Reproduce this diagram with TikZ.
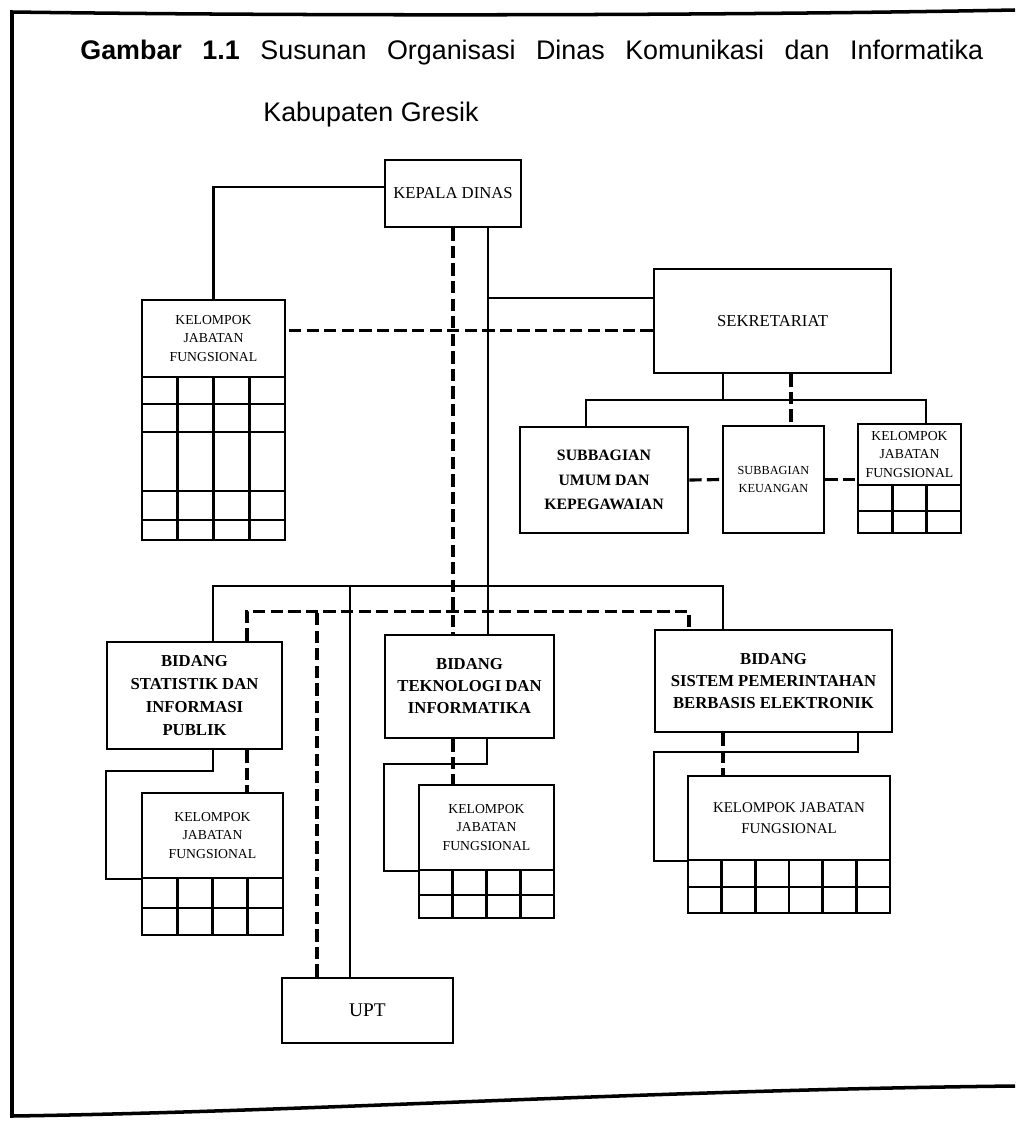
\documentclass[tikz,border=0pt]{standalone}
\usepackage{fontspec}
\setmainfont{Liberation Serif}
\newfontfamily\titlefont{Liberation Sans}
\usepackage{tikz}
\usetikzlibrary{positioning, matrix}

\tikzset{
  unitbox/.style={draw, line width=1.5pt, align=center, inner sep=0pt},
  jfbox/.style={unitbox, font=\fontsize{7.8}{10.5}\selectfont},
  solidlink/.style={line width=1.3pt},
  dashlink/.style={line width=1.8pt, dash pattern=on 7pt off 3pt},
  jfgrid/.style={matrix of nodes, nodes in empty cells, inner sep=0pt, outer sep=0pt,
    nodes={draw, line width=1.5pt, minimum width=#1, minimum height=0.52cm, inner sep=0pt},
    row sep=-1.5pt, column sep=-1.5pt, ampersand replacement=\&},
}

\begin{document}
\begin{tikzpicture}[x=0.02cm, y=-0.02cm]
  \useasboundingbox (0,0) rectangle (1015,1122);

  % bingkai halaman
  \draw[line width=2pt] (1015,10) .. controls (700,16) and (300,16) .. (12,12)
    -- (12,1116) .. controls (300,1112) and (650,1090) .. (1015,1086);

  % judul
  \node[anchor=base west, inner sep=0pt, font=\titlefont\fontsize{15.3}{18}\selectfont] (judul) at (80,60)
    {\makebox[18.06cm][s]{\textbf{Gambar} \textbf{1.1} Susunan Organisasi Dinas Komunikasi dan Informatika}};
  \node[anchor=base west, inner sep=0pt, font=\titlefont\fontsize{15.3}{18}\selectfont] (judulb) at (263,122)
    {Kabupaten Gresik};

  % unit kerja
  \node[unitbox, minimum width=2.72cm, minimum height=1.34cm, font=\fontsize{9.5}{13}\selectfont]
    (kepala) at (453,193.5) {KEPALA DINAS};
  \node[unitbox, minimum width=4.74cm, minimum height=2.08cm, font=\fontsize{9.5}{13}\selectfont]
    (sekretariat) at (772.5,321) {SEKRETARIAT};
  \node[unitbox, minimum width=3.36cm, minimum height=2.12cm, font=\bfseries\fontsize{9}{14}\selectfont]
    (umum) at (604,480) {SUBBAGIAN\\UMUM DAN\\KEPEGAWAIAN};
  \node[unitbox, minimum width=2.02cm, minimum height=2.14cm, font=\fontsize{7}{10.5}\selectfont]
    (keuangan) at (773.5,479.5) {SUBBAGIAN\\KEUANGAN};
  \node[unitbox, minimum width=3.5cm, minimum height=2.14cm, font=\bfseries\fontsize{9.5}{13}\selectfont]
    (statistik) at (194.5,695.5) {BIDANG\\STATISTIK DAN\\INFORMASI\\PUBLIK};
  \node[unitbox, minimum width=3.38cm, minimum height=2.06cm, font=\bfseries\fontsize{9.5}{12.5}\selectfont]
    (teknologi) at (469.5,686.5) {BIDANG\\TEKNOLOGI DAN\\INFORMATIKA};
  \node[unitbox, minimum width=4.74cm, minimum height=2.04cm, font=\bfseries\fontsize{9.5}{12.5}\selectfont]
    (sistem) at (773.5,681) {BIDANG\\SISTEM PEMERINTAHAN\\BERBASIS ELEKTRONIK};
  \node[unitbox, minimum width=3.42cm, minimum height=1.3cm, font=\fontsize{11}{13}\selectfont]
    (upt) at (367.5,1010.5) {UPT};

  % kelompok jabatan fungsional
  \node[jfbox, minimum width=2.86cm, minimum height=1.54cm] (jfkiri) at (213.5,338.5)
    {KELOMPOK\\JABATAN\\FUNGSIONAL};
  \node[jfbox, minimum width=2.06cm, minimum height=1.22cm] (jfsek) at (909.5,454.5)
    {KELOMPOK\\JABATAN\\FUNGSIONAL};
  \node[jfbox, minimum width=2.82cm, minimum height=1.7cm] (jfstat) at (212.5,835.5)
    {KELOMPOK\\JABATAN\\FUNGSIONAL};
  \node[jfbox, minimum width=2.7cm, minimum height=1.7cm] (jftek) at (486.5,827.5)
    {KELOMPOK\\JABATAN\\FUNGSIONAL};
  \node[jfbox, minimum width=4.04cm, minimum height=1.68cm, font=\fontsize{8.5}{12}\selectfont]
    (jfsis) at (789,818) {KELOMPOK JABATAN\\FUNGSIONAL};

  \matrix (gridkiri) [jfgrid=0.715cm, below=-1.5pt of jfkiri,
    row 1/.style={nodes={minimum height=0.54cm}},
    row 2/.style={nodes={minimum height=0.56cm}},
    row 3/.style={nodes={minimum height=1.18cm}},
    row 4/.style={nodes={minimum height=0.58cm}},
    row 5/.style={nodes={minimum height=0.4cm}}] {
    \& \& \& \\
    \& \& \& \\
    \& \& \& \\
    \& \& \& \\
    \& \& \& \\
  };
  \matrix (gridsek) [jfgrid=0.687cm, below=-1.5pt of jfsek,
    row 2/.style={nodes={minimum height=0.44cm}}] {
    \& \& \\
    \& \& \\
  };
  \matrix (gridstat) [jfgrid=0.705cm, below=-1.5pt of jfstat,
    row 1/.style={nodes={minimum height=0.6cm}},
    row 2/.style={nodes={minimum height=0.54cm}}] {
    \& \& \& \\
    \& \& \& \\
  };
  \matrix (gridtek) [jfgrid=0.675cm, below=-1.5pt of jftek,
    row 1/.style={nodes={minimum height=0.5cm}},
    row 2/.style={nodes={minimum height=0.46cm}}] {
    \& \& \& \\
    \& \& \& \\
  };
  \matrix (gridsis) [jfgrid=0.673cm, below=-1.5pt of jfsis,
    row 1/.style={nodes={minimum height=0.54cm}}] {
    \& \& \& \& \& \\
    \& \& \& \& \& \\
  };

  % garis komando
  \coordinate (trunk) at ([xshift=0.7cm]kepala.south);
  \coordinate (sekin) at ([yshift=-0.6cm]sekretariat.north west);
  \coordinate (sekbus) at ([xshift=-0.99cm,yshift=-0.52cm]sekretariat.south);
  \coordinate (bus) at ([yshift=0.96cm]teknologi.north);
  \coordinate (uptA) at ([xshift=-0.35cm]upt.north);
  \draw[solidlink] ([yshift=0.13cm]kepala.west) -| (jfkiri.north);
  \draw[solidlink] (trunk) -- (trunk |- teknologi.north);
  \draw[solidlink] (sekin) -- (sekin -| trunk);
  \draw[solidlink] ([xshift=-0.99cm]sekretariat.south) -- (sekbus);
  \draw[solidlink] ([xshift=-0.36cm]umum.north) |- (sekbus) -| ([xshift=0.33cm]jfsek.north);
  \draw[solidlink] ([xshift=0.37cm]statistik.north) |- (bus) -| ([xshift=-1.01cm]sistem.north);
  \draw[solidlink] (uptA) -- (uptA |- bus);
  \draw[solidlink] ([xshift=0.37cm]statistik.south) -- ++(0,21) -| (statistik.west |- jfstat.south) -- (jfstat.south west);
  \draw[solidlink] ([xshift=0.35cm]teknologi.south) -- ++(0,25) -| (teknologi.west |- jftek.south) -- (jftek.south west);
  \draw[solidlink] ([xshift=1.69cm]sistem.south) -- ++(0,19) -| (sistem.west |- jfsis.south) -- (jfsis.south west);

  % garis koordinasi
  \coordinate (sekdash) at ([yshift=-1.26cm]sekretariat.north west);
  \coordinate (sekB) at ([xshift=0.37cm]sekretariat.south);
  \coordinate (dbus) at ([yshift=0.44cm]teknologi.north);
  \coordinate (uptB) at ([xshift=-1.01cm]upt.north);
  \coordinate (statB) at ([xshift=1.05cm]statistik.south);
  \coordinate (tekB) at ([xshift=-0.33cm]teknologi.south);
  \coordinate (sisB) at ([xshift=-1.01cm]sistem.south);
  \draw[dashlink] (sekdash) -- (sekdash -| jfkiri.east);
  \draw[dashlink] (kepala.south) -- (kepala.south |- teknologi.north);
  \draw[dashlink] (sekB) -- (sekB |- keuangan.north);
  \draw[dashlink] (umum.east) -- (keuangan.west);
  \draw[dashlink] (keuangan.east) -- (keuangan.east -| jfsek.west);
  \draw[dashlink] ([xshift=1.05cm]statistik.north) |- (dbus) -| ([xshift=-1.69cm]sistem.north);
  \draw[dashlink] (uptB) -- (uptB |- dbus);
  \draw[dashlink] (statB) -- (statB |- jfstat.north);
  \draw[dashlink] (tekB) -- (tekB |- jftek.north);
  \draw[dashlink] (sisB) -- (sisB |- jfsis.north);
\end{tikzpicture}
\end{document}
